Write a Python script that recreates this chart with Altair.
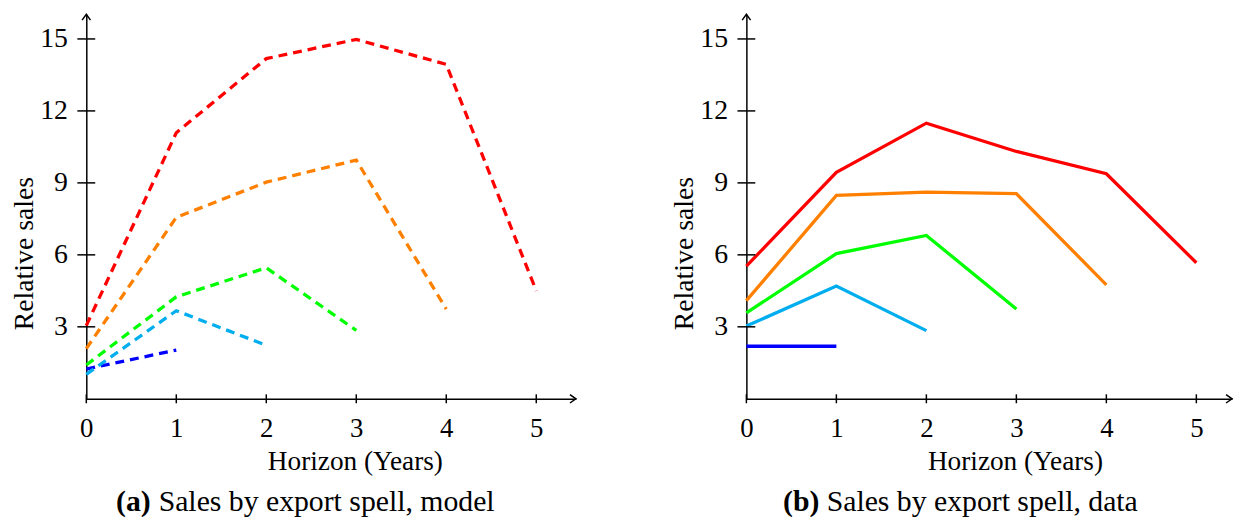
import altair as alt
import pandas as pd

# ---- data ----
horizon = [0, 1, 2, 3, 4, 5]
spells = ["1 year", "2 years", "3 years", "4 years", "5 years"]
spell_colors = ["#0000ff", "#00aeef", "#00ff00", "#ff8000", "#ff0000"]

model_1 = [1.24, 2.03]
model_2 = [1.02, 3.67, 2.23]
model_3 = [1.41, 4.25, 5.46, 2.85]
model_4 = [2.09, 7.56, 9.03, 9.95, 3.74]
model_5 = [3.05, 11.09, 14.18, 14.98, 13.94, 4.50]

data_1 = [2.19, 2.19]
data_2 = [3.03, 4.70, 2.84]
data_3 = [3.58, 6.05, 6.81, 3.74]
data_4 = [4.09, 8.48, 8.61, 8.55, 4.75]
data_5 = [5.53, 9.44, 11.49, 10.31, 9.38, 5.67]

y_ticks = [3, 6, 9, 12, 15]
x_ticks = [0, 1, 2, 3, 4, 5]

PX_PER_YEAR = 90.8
Y_MAX = 16.03
H = 388
FONT = "Liberation Serif, Times New Roman, serif"
FS = 27
CAP_FS = 30


def frame(series):
    rows = []
    for name, vals in zip(spells, series):
        for h, v in zip(horizon, vals):
            rows.append({"spell": name, "horizon": h, "value": v})
    return pd.DataFrame(rows)


model_df = frame([model_1, model_2, model_3, model_4, model_5])
data_df = frame([data_1, data_2, data_3, data_4, data_5])

yscale = alt.Scale(domain=[0, Y_MAX], nice=False, zero=False)


def panel(df, dashed, width, cap_bold, cap_rest, cap_x, cap_rest_x):
    x_max = width / PX_PER_YEAR
    xscale = alt.Scale(domain=[0, x_max], nice=False, zero=False)
    xaxis = alt.Axis(
        values=x_ticks, format="d", title="Horizon (Years)", ticks=False, grid=False,
        domainColor="black", domainWidth=1.5, labelFont=FONT, labelFontSize=FS,
        labelColor="black", labelPadding=38, labelBaseline="alphabetic",
        labelFlush=False, labelOverlap=False,
        titleFont=FONT, titleFontSize=27.5,
        titleFontWeight="normal", titleColor="black", titleX=271, titleY=71,
        titleAlign="center", titleBaseline="alphabetic",
    )
    yaxis = alt.Axis(
        values=y_ticks, format="d", title="Relative sales", ticks=False, grid=False,
        domainColor="black", domainWidth=1.5, labelFont=FONT, labelFontSize=28,
        labelColor="black", labelPadding=19, labelAlign="right", labelBaseline="middle",
        labelFlush=False, labelOverlap=False,
        titleFont=FONT, titleFontSize=28,
        titleFontWeight="normal", titleColor="black", titleX=-54, titleY=241,
        titleAlign="center", titleBaseline="alphabetic", titleAngle=-90,
    )
    line_kw = dict(strokeWidth=3.3)
    if dashed:
        line_kw["strokeDash"] = [9, 6]
    lines = alt.Chart(df).mark_line(**line_kw).encode(
        x=alt.X("horizon:Q", scale=xscale, axis=xaxis),
        y=alt.Y("value:Q", scale=yscale, axis=yaxis),
        color=alt.Color("spell:N", scale=alt.Scale(domain=spells, range=spell_colors), legend=None),
    )
    xt = alt.Chart(pd.DataFrame({"h": x_ticks, "v": [0] * len(x_ticks)})).mark_tick(
        orient="vertical", size=9, thickness=1.5, color="black", opacity=1
    ).encode(x=alt.X("h:Q", scale=xscale), y=alt.Y("v:Q", scale=yscale))
    yt = alt.Chart(pd.DataFrame({"h": [0] * len(y_ticks), "v": y_ticks})).mark_tick(
        orient="horizontal", size=18, thickness=1.5, color="black", opacity=1
    ).encode(x=alt.X("h:Q", scale=xscale), y=alt.Y("v:Q", scale=yscale))
    arrows = alt.Chart(pd.DataFrame({"h": [x_max, 0], "v": [0, Y_MAX], "a": [90, 0]})).mark_point(
        shape="M -0.85 1.2 L 0 0 L 0.85 1.2", filled=False, stroke="black", strokeWidth=1.5,
        size=100, opacity=1
    ).encode(
        x=alt.X("h:Q", scale=xscale), y=alt.Y("v:Q", scale=yscale),
        angle=alt.Angle("a:Q", scale=None),
    )
    cap1 = alt.Chart(pd.DataFrame({"t": [cap_bold]})).mark_text(
        font=FONT, fontSize=CAP_FS, fontWeight="bold", align="left", baseline="alphabetic", color="black"
    ).encode(text="t:N", x=alt.value(cap_x), y=alt.value(501))
    cap2 = alt.Chart(pd.DataFrame({"t": [cap_rest]})).mark_text(
        font=FONT, fontSize=CAP_FS, align="left", baseline="alphabetic", color="black"
    ).encode(text="t:N", x=alt.value(cap_rest_x), y=alt.value(501))
    return alt.layer(lines, xt, yt, arrows, cap1, cap2).properties(width=width, height=H)


left = panel(model_df, True, 494, "(a)", "Sales by export spell, model", 30, 73)
right = panel(data_df, False, 490, "(b)", "Sales by export spell, data", 37, 81)

chart = alt.hconcat(left, right, spacing=93).properties(
    padding={"left": 3, "top": 1, "right": 0, "bottom": 0}
).configure_view(stroke=None)

chart.save("out.html", embed_options={"renderer": "svg", "actions": False})
